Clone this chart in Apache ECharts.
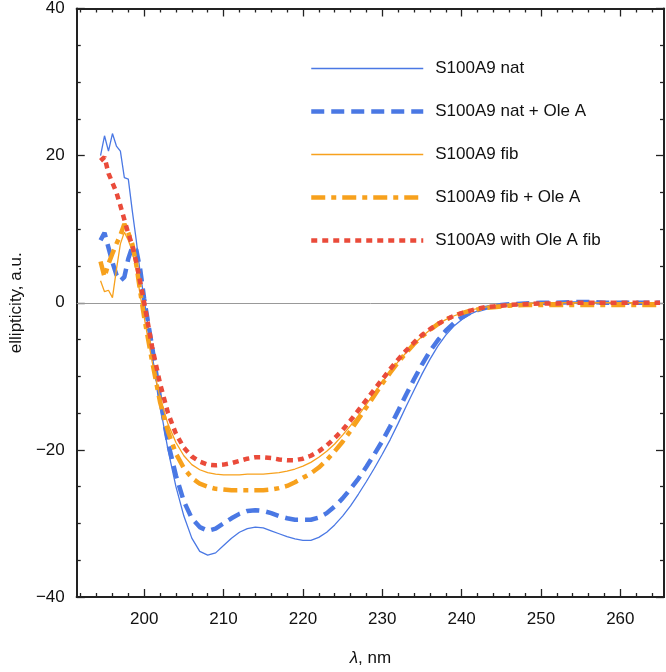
<!DOCTYPE html>
<html><head><meta charset="utf-8">
<script src="https://cdn.jsdelivr.net/npm/echarts@6/dist/echarts.min.js"></script>
<style>html,body{margin:0;padding:0;background:#fff}#c{width:666px;height:672px}</style>
</head><body><div id="c"></div>
<script>
const wavelength = [194.5,195,195.5,196,196.5,197,197.5,198,198.5,199,199.5,200,
 201,202,203,204,205,206,207,208,209,210,
 211,212,213,214,215,216,217,218,219,220,
 221,222,223,224,225,226,227,228,229,230,
 231,232,233,234,235,236,237,238,239,240,
 241,242,243,244,245,246,
 248,250,252,254,256,258,260,262,264,265];

const natThin = [20,22.7,20.6,23,21.3,20.6,17,16.8,12.5,8.5,4,0.5,
 -7,-14,-20,-25,-29,-32,-33.8,-34.3,-34,-33,
 -32,-31.2,-30.7,-30.5,-30.6,-31,-31.4,-31.8,-32.1,-32.3,
 -32.3,-31.9,-31.2,-30.2,-29,-27.6,-26.0,-24.3,-22.5,-20.6,
 -18.6,-16.4,-14.1,-11.9,-9.7,-7.7,-5.9,-4.4,-3.2,-2.3,
 -1.6,-1.1,-0.7,-0.5,-0.3,-0.2,
 -0.1,0,0,0.1,0.1,0,0,0,0,0];

const natOle = [8.5,9.5,7.5,5.5,3.8,3.0,3.5,6,7.6,7.2,4.5,0.5,
 -6,-13,-19,-23.5,-27,-29.3,-30.5,-31,-30.7,-30,
 -29.3,-28.7,-28.3,-28.2,-28.3,-28.6,-29,-29.3,-29.5,-29.5,
 -29.5,-29.2,-28.6,-27.7,-26.6,-25.3,-23.9,-22.3,-20.6,-18.8,
 -16.8,-14.7,-12.5,-10.4,-8.4,-6.6,-5.1,-3.8,-2.8,-2.0,
 -1.4,-1.0,-0.7,-0.5,-0.3,-0.2,
 -0.1,0,0,0.1,0.1,0,0,0,0,0];

const fibThin = [3.0,1.5,1.7,0.7,4.5,8.0,9.6,8.5,7.0,4.5,1.0,-2,
 -8,-13,-16.5,-19,-20.8,-22,-22.7,-23.1,-23.3,-23.4,
 -23.4,-23.4,-23.3,-23.3,-23.3,-23.2,-23.1,-22.9,-22.6,-22.2,
 -21.7,-21.0,-20.2,-19.2,-18.0,-16.7,-15.3,-13.8,-12.3,-10.8,
 -9.4,-8.0,-6.8,-5.6,-4.6,-3.7,-2.9,-2.3,-1.8,-1.4,
 -1.0,-0.8,-0.6,-0.4,-0.3,-0.2,
 -0.1,0,0,0,0,0,0,0,0,0];

const fibOle = [5.6,3.5,5.3,6.7,8.0,9.2,10.7,9.5,8,5.2,1.5,-2,
 -8,-13.5,-17.5,-20.5,-22.5,-23.8,-24.6,-25,-25.3,-25.4,
 -25.5,-25.5,-25.5,-25.5,-25.5,-25.4,-25.2,-24.9,-24.4,-23.8,
 -23.2,-22.4,-21.4,-20.2,-18.9,-17.4,-15.8,-14.2,-12.6,-11.0,
 -9.5,-8.1,-6.8,-5.6,-4.6,-3.7,-2.9,-2.3,-1.8,-1.4,
 -1.1,-0.9,-0.7,-0.6,-0.5,-0.4,
 -0.3,-0.3,-0.3,-0.3,-0.3,-0.3,-0.3,-0.3,-0.3,-0.3];

const withOleFib = [19.3,19.8,17.6,16.3,15.0,13.2,11.3,9.4,7.8,5.5,2.8,0,
 -6,-11,-15,-17.8,-19.7,-20.9,-21.6,-22,-22.1,-22,
 -21.8,-21.5,-21.2,-21.0,-21.0,-21.1,-21.3,-21.4,-21.4,-21.2,
 -20.8,-20.2,-19.4,-18.4,-17.3,-16.0,-14.6,-13.2,-11.8,-10.4,
 -9.0,-7.7,-6.5,-5.4,-4.4,-3.6,-2.9,-2.3,-1.8,-1.4,
 -1.1,-0.8,-0.6,-0.5,-0.4,-0.3,
 -0.2,-0.1,-0.1,0,0,0,0,0,0,0];

const seriesNames = ['S100A9 nat','S100A9 nat + Ole A','S100A9 fib','S100A9 fib + Ole A','S100A9 with Ole A fib'];
const xMajorTicks = [200,210,220,230,240,250,260];
const xMinorTicks = [192,194,196,198,202,204,206,208,212,214,216,218,222,224,226,228,232,234,236,238,242,244,246,248,252,254,256,258,262,264];

const XMIN = 191.5, XMAX = 265.5;
const FONT = '"Liberation Sans", Arial, Helvetica, sans-serif';
const AX = '#222';

function pairs(vals){ return wavelength.map((w,i)=>[w, vals[i]]); }

const styles = [
  {color:'#4a78e4', width:1.3, type:'solid'},
  {color:'#4a78e4', width:4.5, type:[13,7]},
  {color:'#f7a11d', width:1.3, type:'solid'},
  {color:'#f7a11d', width:4.5, type:[14,6,5,6]},
  {color:'#ea4b3a', width:4.5, type:[6,5]}
];
const allData = [natThin, natOle, fibThin, fibOle, withOleFib];

function xAx(pos, values, len, showLabel, extra){
  return Object.assign({
    type:'value', min:XMIN, max:XMAX, position:pos,
    axisLine:{show:true, onZero:false, lineStyle:{color:AX, width:2}},
    axisTick:{show:true, inside:true, length:len, customValues:values, lineStyle:{color:AX, width:1.3}},
    axisLabel:{show:showLabel, customValues:values, margin:14, fontSize:17, color:'#111', fontFamily:FONT},
    splitLine:{show:false}
  }, extra||{});
}
function yAx(pos, showLabel, extra){
  return Object.assign({
    type:'value', min:-40, max:40, interval:20, position:pos,
    axisLine:{show:true, onZero:false, lineStyle:{color:AX, width:2}},
    axisTick:{show:true, inside:true, length:8, lineStyle:{color:AX, width:1.3}},
    minorTick:{show:true, splitNumber:4, length:4, lineStyle:{color:AX, width:1.3}},
    axisLabel:{show:showLabel, margin:12, fontSize:17, color:'#111', fontFamily:FONT,
      formatter:v => v<0 ? '\u2212'+Math.abs(v) : String(v)},
    splitLine:{show:false}
  }, extra||{});
}

const chart = echarts.init(document.getElementById('c'), null, {renderer:'canvas'});
chart.setOption({
  animation:false,
  backgroundColor:'#fff',
  grid:{left:71, right:2, top:6, bottom:72, containLabel:false},
  xAxis:[
    xAx('bottom', xMajorTicks, 8, true, {name:'{i|λ}, nm', nameLocation:'middle', nameGap:53,
      nameTextStyle:{fontSize:17, color:'#111', fontFamily:FONT, rich:{i:{fontStyle:'italic', fontSize:17, color:'#111', fontFamily:FONT}}}}),
    xAx('bottom', xMinorTicks, 4, false),
    xAx('top', xMajorTicks, 8, false),
    xAx('top', xMinorTicks, 4, false)
  ],
  yAxis:[
    yAx('left', true, {name:'ellipticity, a.u.', nameLocation:'middle', nameGap:47,
      nameTextStyle:{fontSize:17, color:'#111', fontFamily:FONT}}),
    yAx('right', false)
  ],
  legend:{
    orient:'vertical', left:304, top:55, itemWidth:112, itemHeight:14, itemGap:26,
    padding:5,
    textStyle:{fontSize:17, color:'#111', fontFamily:FONT, padding:[0,0,0,7]},
    itemStyle:{opacity:0},
    data:seriesNames.map((n,i)=>({name:n, itemStyle:{opacity:0},
      lineStyle:{width:styles[i].width, type:styles[i].type, color:styles[i].color}}))
  },
  series: seriesNames.map((n,i)=>{
    const s = {
      name:n, type:'line', xAxisIndex:0, yAxisIndex:0, data:pairs(allData[i]),
      showSymbol:false, symbol:'none', smooth:false,
      lineStyle:{color:styles[i].color, width:styles[i].width, type:styles[i].type, cap:'butt'},
      itemStyle:{color:styles[i].color},
      z: 3+i
    };
    if(i===0){
      s.markLine = {silent:true, symbol:'none', label:{show:false},
        lineStyle:{color:'#999', width:1, type:'solid'}, data:[{yAxis:0}], z:1};
    }
    return s;
  })
});
</script></body></html>
